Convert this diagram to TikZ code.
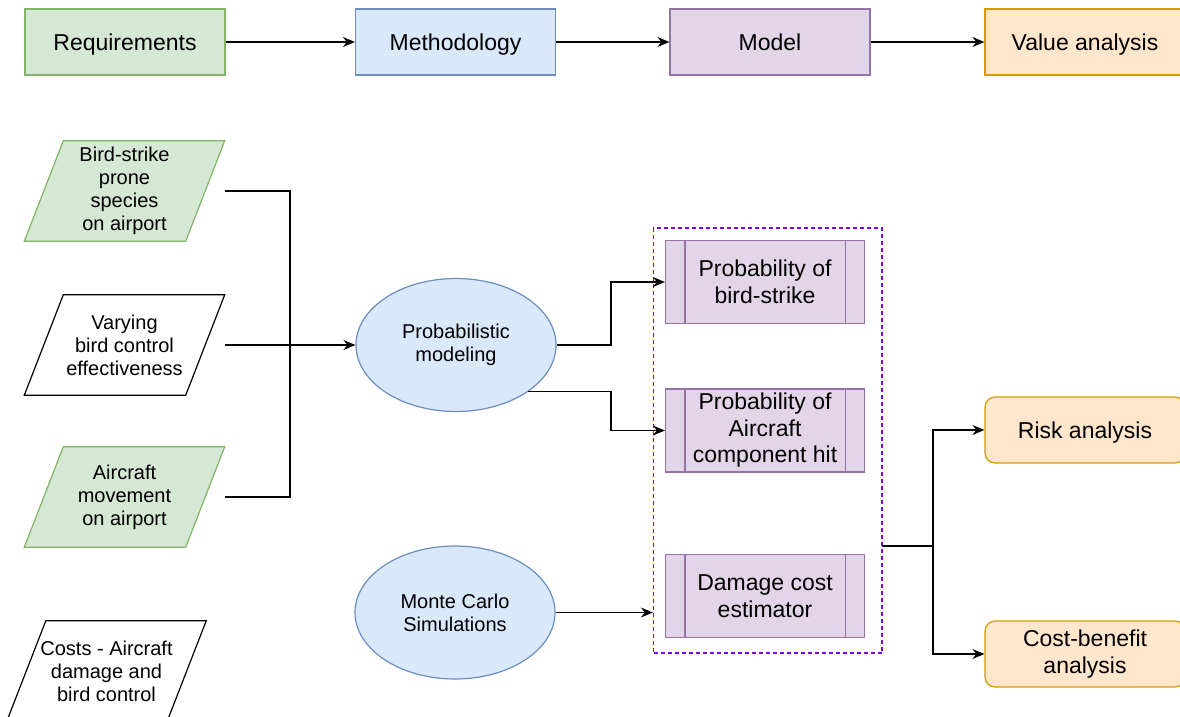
\documentclass[tikz,border=0pt]{standalone}
\usepackage{fontspec}
\setmainfont{Liberation Sans}
\usetikzlibrary{shapes.geometric,arrows.meta,backgrounds}
\definecolor{gfill}{HTML}{D5E8D4}\definecolor{gline}{HTML}{82B366}
\definecolor{bfill}{HTML}{DAE8FC}\definecolor{bline}{HTML}{6C8EBF}
\definecolor{pfill}{HTML}{E1D5E7}\definecolor{pline}{HTML}{9673A6}
\definecolor{ofill}{HTML}{FFE6CC}\definecolor{oline}{HTML}{D79B00}
\definecolor{vline}{HTML}{8000FF}
\begin{document}
\begin{tikzpicture}[x=1pt,y=-1pt,
  big/.style={font=\fontsize{23}{26.5}\selectfont, align=center},
  small/.style={font=\fontsize{20}{23}\selectfont, align=center},
  oneline/.style={text height=16.5pt, text depth=0pt},
  topbox/.style={rectangle, draw, line width=1.2pt, minimum width=200pt, minimum height=66pt, inner sep=0pt, big},
  gbox/.style={topbox, fill=gfill, draw=gline},
  bbox/.style={topbox, fill=bfill, draw=bline},
  pbox/.style={topbox, fill=pfill, draw=pline},
  obox/.style={topbox, fill=ofill, draw=oline},
  rbox/.style={obox, rounded corners=10pt},
  procbox/.style={rectangle, draw=pline, fill=pfill, line width=1.2pt, minimum width=199pt, minimum height=83pt, inner sep=0pt, big},
  paratext/.style={rectangle, minimum width=200pt, minimum height=100pt, inner sep=0pt, small},
  ell/.style={ellipse, draw=bline, fill=bfill, line width=1.2pt, minimum width=200pt, minimum height=133pt, inner sep=0pt, small},
  conn/.style={line width=1.3pt, draw=black},
  arr/.style={conn, -{Stealth[length=12pt,width=10pt,inset=4pt]}}
]
\useasboundingbox (0,0) rectangle (1180,717);

% top row
\node[gbox, oneline] (rq) at (125,42) {Requirements};
\node[bbox, oneline] (me) at (455.5,42) {Methodology};
\node[pbox, oneline] (mo) at (770,42) {Model};
\node[obox, oneline] (va) at (1085,42) {Value analysis};
\draw[arr] (rq) -- (me);
\draw[arr] (me) -- (mo);
\draw[arr] (mo) -- (va);

% parallelogram inputs (text holders)
\node[paratext] (bs) at (124.5,191) {Bird-strike\\prone\\species\\on airport};
\node[paratext] (vb) at (124.5,345) {Varying\\bird control\\effectiveness};
\node[paratext] (am) at (124.5,497) {Aircraft\\movement\\on airport};
\node[paratext, minimum width=199pt] (co) at (106.5,671) {Costs - Aircraft\\damage and\\bird control};
\begin{scope}[on background layer]
  \foreach \n/\f/\d in {bs/gfill/gline, vb/white/black, am/gfill/gline, co/white/black}{
    \draw[fill=\f, draw=\d, line width=1.2pt]
      ([xshift=39pt]\n.north west) -- (\n.north east) -- ([xshift=-39pt]\n.south east) -- (\n.south west) -- cycle;
  }
\end{scope}

% ellipses
\node[ell] (pm) at (456,345) {Probabilistic\\modeling};
\node[ell] (mc) at (455,612.5) {Monte Carlo\\Simulations};

% group
\node[rectangle, draw=vline, line width=1.2pt, dash pattern=on 4pt off 3pt, minimum width=228.5pt, minimum height=425pt, inner sep=0pt] (grp) at (767.75,440.5) {};

% process boxes
\node[procbox] (p1) at (765,282) {Probability of\\bird-strike};
\node[procbox] (p2) at (765,430.5) {Probability of\\Aircraft\\component hit};
\node[procbox] (p3) at (765,596) {Damage cost\\estimator};
\foreach \n in {p1,p2,p3}{
  \draw[draw=pline, line width=1.2pt] ([xshift=20pt]\n.north west) -- ([xshift=20pt]\n.south west);
  \draw[draw=pline, line width=1.2pt] ([xshift=-20pt]\n.north east) -- ([xshift=-20pt]\n.south east);
}

% outputs
\node[rbox, oneline] (ra) at (1085,430) {Risk analysis};
\node[rbox] (cb) at (1085,654) {Cost-benefit\\analysis};

% connectors
\coordinate (jn) at (290,345);
\draw[conn] (bs.east) -| (jn);
\draw[conn] (am.east) -| (jn);
\draw[arr] (vb.east) -- (pm.west);

\coordinate (vx) at (611,0);
\draw[arr] (pm.east) -- (pm.east -| vx) |- (p1.west);
\draw[arr] (pm.-33) -- (pm.-33 -| vx) |- (p2.west);
\draw[arr] (mc.east) -- (mc.east -| grp.west);

\coordinate (go) at (882,546);
\coordinate (vx2) at (933,546);
\draw[conn] (go) -- (vx2);
\draw[arr] (vx2) |- (ra.west);
\draw[arr] (vx2) |- (cb.west);
\end{tikzpicture}
\end{document}
